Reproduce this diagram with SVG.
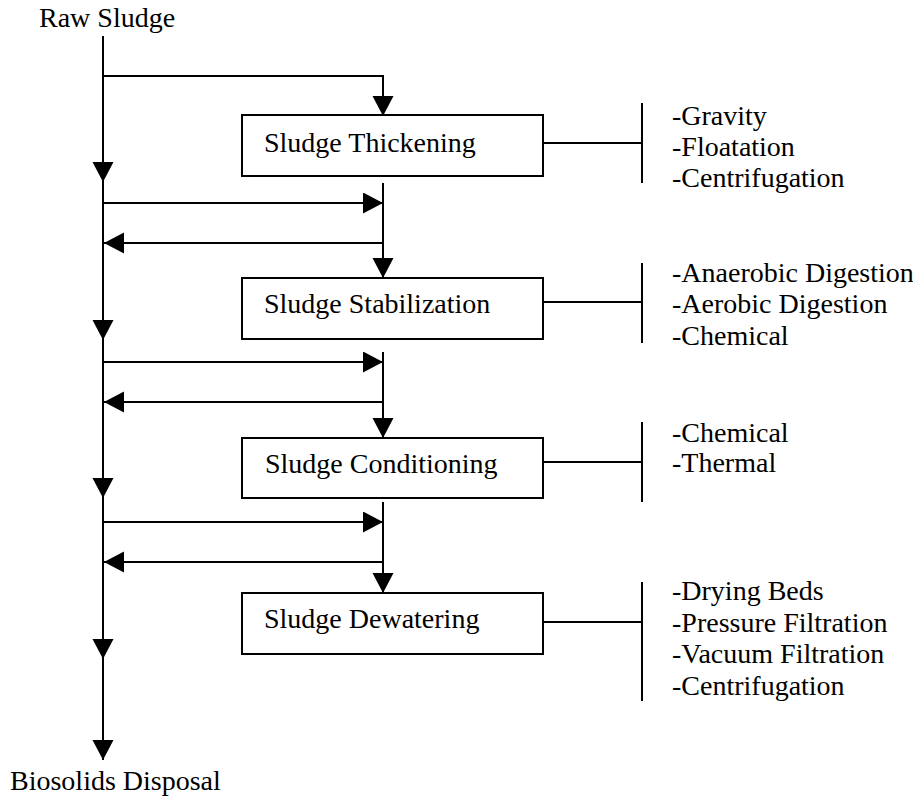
<svg xmlns="http://www.w3.org/2000/svg" width="913" height="796" viewBox="0 0 913 796" font-family="Liberation Serif, DejaVu Serif, serif">
<style>
text{font-family:Liberation Serif,DejaVu Serif,serif;font-size:28px;fill:#000}
.ln{stroke:#000;stroke-width:2;fill:none}
.ar{marker-end:url(#ah)}
.box{fill:#fff;stroke:#000;stroke-width:2}
</style>
<defs>
<marker id="ah" markerUnits="userSpaceOnUse" markerWidth="21" markerHeight="22" refX="20" refY="10.5" orient="auto" viewBox="0 0 21 22">
<path d="M0,0 L20,10.5 L0,21 Z" fill="#000"/>
</marker>
</defs>
<rect width="913" height="796" fill="#fff"/>
<text x="39" y="27" font-family="Liberation Serif, serif">Raw Sludge</text>
<text x="10" y="790" font-family="Liberation Serif, serif">Biosolids Disposal</text>
<g id="connectors">
<path class="ln ar" d="M103,36 V182"/>
<path class="ln ar" d="M103,182 V340"/>
<path class="ln ar" d="M103,340 V498"/>
<path class="ln ar" d="M103,498 V659"/>
<path class="ln ar" d="M103,659 V760"/>
<path class="ln ar" d="M103,76 H383 V116"/>
<path class="ln ar" d="M103,203 H383"/>
<path class="ln ar" d="M383,243 H104"/>
<path class="ln ar" d="M383,183 V278"/>
<path class="ln ar" d="M103,362 H383"/>
<path class="ln ar" d="M383,402 H104"/>
<path class="ln ar" d="M383,352 V438"/>
<path class="ln ar" d="M103,522 H383"/>
<path class="ln ar" d="M383,562 H104"/>
<path class="ln ar" d="M383,502 V593"/>
<path class="ln" d="M543,143 H642 M642,103 V183"/>
<path class="ln" d="M543,302 H642 M642,263 V343"/>
<path class="ln" d="M543,462 H642 M642,422 V502"/>
<path class="ln" d="M543,622 H642 M642,582 V701"/>
</g>
<g id="thickening">
<rect class="box" x="242" y="115" width="301" height="61"/>
<text x="264" y="152">Sludge Thickening</text>
<text x="672" y="125">-Gravity</text>
<text x="672" y="156">-Floatation</text>
<text x="672" y="187">-Centrifugation</text>
</g>
<g id="stabilization">
<rect class="box" x="242" y="278" width="301" height="61"/>
<text x="264" y="313">Sludge Stabilization</text>
<text x="672" y="282">-Anaerobic Digestion</text>
<text x="672" y="313">-Aerobic Digestion</text>
<text x="672" y="345">-Chemical</text>
</g>
<g id="conditioning">
<rect class="box" x="242" y="438" width="301" height="60"/>
<text x="265" y="473">Sludge Conditioning</text>
<text x="672" y="442">-Chemical</text>
<text x="672" y="472">-Thermal</text>
</g>
<g id="dewatering">
<rect class="box" x="242" y="593" width="301" height="61"/>
<text x="264" y="628">Sludge Dewatering</text>
<text x="672" y="600">-Drying Beds</text>
<text x="672" y="632">-Pressure Filtration</text>
<text x="672" y="663">-Vacuum Filtration</text>
<text x="672" y="695">-Centrifugation</text>
</g>
</svg>
